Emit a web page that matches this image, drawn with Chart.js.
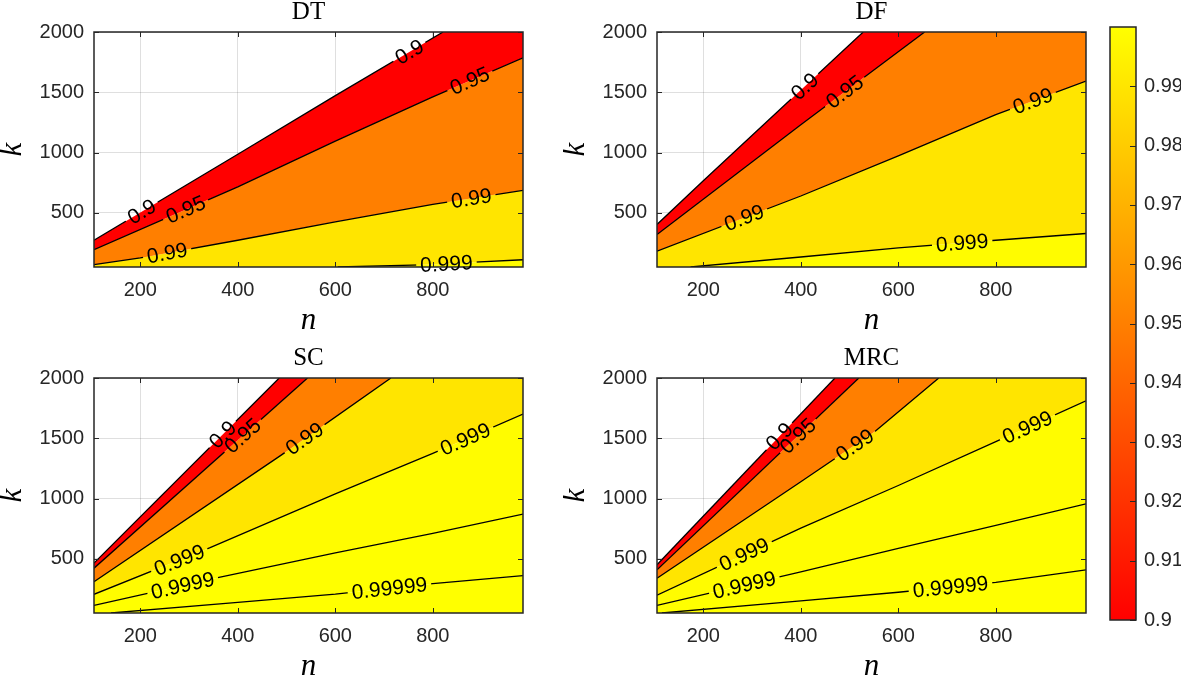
<!DOCTYPE html>
<html>
<head>
<meta charset="utf-8">
<script src="https://cdn.jsdelivr.net/npm/chart.js@4.4.1/dist/chart.umd.min.js"></script>
<style>
  body { margin: 0; background: #fff; width: 1181px; height: 677px; overflow: hidden; position: relative; }
  canvas { position: absolute; }
</style>
</head>
<body>
<canvas id="dt" width="530" height="340" style="left:0;top:0"></canvas>
<canvas id="df" width="530" height="340" style="left:563px;top:0"></canvas>
<canvas id="sc" width="530" height="340" style="left:0;top:346px"></canvas>
<canvas id="mrc" width="530" height="340" style="left:563px;top:346px"></canvas>
<canvas id="cbar" width="81" height="640" style="left:1100px;top:0"></canvas>
<script>
// axis limits and ticks
const nRange = [105, 985];
const kRange = [50, 2000];
const nTicks = [200, 400, 600, 800];
const kTicks = [500, 1000, 1500, 2000];
const cbarRange = [0.9, 1.0];
const cbarTicks = [0.9, 0.91, 0.92, 0.93, 0.94, 0.95, 0.96, 0.97, 0.98, 0.99];

// contour levels
const levels = [0.9, 0.95, 0.99, 0.999, 0.9999, 0.99999];

// contour lines, one [n, k] polyline per level, in the order of levels
const dtLines = [
  [[105, 272], [400, 986], [600, 1472], [821, 2000]],
  [[105, 194], [400, 715], [600, 1095], [800, 1462], [985, 1786]],
  [[105, 69], [200, 125], [400, 272], [600, 425], [800, 569], [985, 686]],
  [[605, 50], [800, 70], [886, 90], [985, 110]]
];
const dfLines = [
  [[105, 403], [200, 765], [528, 2000]],
  [[105, 319], [400, 1231], [654, 2000]],
  [[105, 181], [400, 639], [600, 972], [800, 1314], [985, 1592]],
  [[174, 50], [400, 133], [600, 208], [800, 272], [985, 328]]
];
const scLines = [
  [[105, 464], [485, 2000]],
  [[105, 422], [543, 2000]],
  [[105, 310], [489, 1360], [714, 2000]],
  [[105, 205], [342, 590], [600, 1038], [800, 1374], [985, 1700]],
  [[105, 113], [359, 343], [600, 548], [800, 710], [985, 870]],
  [[140, 50], [400, 139], [600, 206], [800, 293], [985, 360]]
];
const mrcLines = [
  [[105, 450], [470, 2000]],
  [[105, 408], [519, 2000]],
  [[105, 338], [400, 1139], [552, 1556], [683, 2000]],
  [[105, 198], [400, 755], [600, 1108], [800, 1472], [985, 1810]],
  [[105, 113], [400, 392], [600, 586], [800, 778], [985, 955]],
  [[115, 50], [400, 151], [600, 222], [800, 304], [985, 408]]
];

// inline labels: [level, n where the label sits]
const dtLabels = [[0.9, 203], [0.9, 752], [0.95, 293], [0.95, 876], [0.99, 255], [0.99, 879], [0.999, 828]];
const dfLabels = [[0.9, 408], [0.95, 490], [0.99, 284], [0.99, 876], [0.999, 731]];
const scLabels = [[0.9, 369], [0.95, 410], [0.99, 537], [0.999, 280], [0.999, 867], [0.9999, 287], [0.99999, 711]];
const mrcLabels = [[0.9, 356], [0.95, 394], [0.99, 511], [0.999, 284], [0.999, 865], [0.9999, 284], [0.99999, 707]];

const AXIS_COLOR = '#262626';
const TICK_FONT = { family: 'Liberation Sans, Arial, sans-serif', size: 20 };
const LABEL_FONT = '21px "Liberation Sans", Arial, sans-serif';
const SERIF = '"Liberation Serif", "Times New Roman", serif';

// autumn colormap over the colour axis
function levelColor(v) {
  const t = Math.min(1, Math.max(0, (v - cbarRange[0]) / (cbarRange[1] - cbarRange[0])));
  return 'rgb(255,' + Math.round(255 * t) + ',0)';
}

function onEdge(c) {
  const a = c.p0.parsed.y, b = c.p1.parsed.y;
  return (a >= kRange[1] && b >= kRange[1]) || (a <= kRange[0] && b <= kRange[0]);
}

function buildDatasets(lines) {
  const pts = lines.map(line => {
    const p = line.map(([n, k]) => ({ x: n, y: k }));
    // close the curve along the box edge so neighbouring levels can be filled
    if (p[0].y <= kRange[0] && p[0].x > nRange[0]) p.unshift({ x: nRange[0], y: kRange[0] });
    if (p[p.length - 1].y >= kRange[1] && p[p.length - 1].x < nRange[1]) p.push({ x: nRange[1], y: kRange[1] });
    return p;
  });
  const L = pts.length;
  const strokes = pts.map((p, i) => ({
    data: p, contour: true, level: levels[i],
    borderColor: '#000', borderWidth: 1.3, pointRadius: 0, fill: false, order: 0,
    segment: { borderColor: c => onEdge(c) ? 'rgba(0,0,0,0)' : undefined }
  }));
  const fills = pts.map((p, i) => ({
    data: p, borderWidth: 0, borderColor: 'rgba(0,0,0,0)', pointRadius: 0,
    backgroundColor: levelColor(levels[i]),
    fill: i < L - 1 ? L + i + 1 : 'start', order: 1
  }));
  return strokes.concat(fills);
}

function labelBoxes(chart, labels) {
  const { ctx, scales: { x } } = chart;
  ctx.save();
  ctx.font = LABEL_FONT;
  const out = [];
  labels.forEach(([lvl, n]) => {
    const idx = chart.data.datasets.findIndex(d => d.contour && d.level === lvl);
    if (idx < 0) return;
    const pts = chart.getDatasetMeta(idx).data;
    const px = x.getPixelForValue(n);
    for (let j = 0; j < pts.length - 1; j++) {
      const p0 = pts[j], p1 = pts[j + 1];
      if (px >= p0.x && px <= p1.x) {
        const t = (px - p0.x) / (p1.x - p0.x || 1);
        const text = String(lvl);
        out.push({
          idx, text, x: px, y: p0.y + t * (p1.y - p0.y),
          a: Math.atan2(p1.y - p0.y, p1.x - p0.x),
          w: ctx.measureText(text).width + 8, h: 18
        });
        break;
      }
    }
  });
  ctx.restore();
  return out;
}

function subplot(id, title, lines, labels) {
  const decor = {
    id: 'decor',
    beforeDatasetDraw(chart, args) {
      const ds = chart.data.datasets[args.index];
      if (!ds.contour) return;
      const ctx = chart.ctx;
      ctx.save();
      ctx.beginPath();
      ctx.rect(0, 0, chart.width, chart.height);
      labelBoxes(chart, labels).filter(b => b.idx === args.index).forEach(b => {
        const c = Math.cos(b.a), s = Math.sin(b.a);
        const hw = b.w / 2, hh = b.h / 2;
        [[-hw, -hh], [hw, -hh], [hw, hh], [-hw, hh]].forEach(([u, v], i) => {
          const X = b.x + u * c - v * s, Y = b.y + u * s + v * c;
          if (i === 0) ctx.moveTo(X, Y); else ctx.lineTo(X, Y);
        });
        ctx.closePath();
      });
      ctx.clip('evenodd');
    },
    afterDatasetDraw(chart, args) {
      if (chart.data.datasets[args.index].contour) chart.ctx.restore();
    },
    afterDraw(chart) {
      const { ctx, chartArea: a, scales: { x, y } } = chart;
      ctx.save();
      // inward tick marks on all four sides
      ctx.strokeStyle = AXIS_COLOR;
      ctx.lineWidth = 1;
      ctx.beginPath();
      x.ticks.forEach(t => {
        const px = Math.round(x.getPixelForValue(t.value)) + 0.5;
        ctx.moveTo(px, a.bottom); ctx.lineTo(px, a.bottom - 5);
        ctx.moveTo(px, a.top); ctx.lineTo(px, a.top + 5);
      });
      y.ticks.forEach(t => {
        const py = Math.round(y.getPixelForValue(t.value)) + 0.5;
        ctx.moveTo(a.left, py); ctx.lineTo(a.left + 5, py);
        ctx.moveTo(a.right, py); ctx.lineTo(a.right - 5, py);
      });
      ctx.stroke();
      ctx.lineWidth = 1.5;
      ctx.strokeRect(a.left, a.top, a.right - a.left, a.bottom - a.top);

      // inline contour labels
      ctx.fillStyle = '#000';
      ctx.font = LABEL_FONT;
      ctx.textAlign = 'center';
      ctx.textBaseline = 'middle';
      labelBoxes(chart, labels).forEach(b => {
        ctx.save();
        ctx.translate(b.x, b.y);
        ctx.rotate(b.a);
        ctx.fillText(b.text, 0, 1);
        ctx.restore();
      });

      // title and axis names
      const cx = (a.left + a.right) / 2;
      ctx.textBaseline = 'alphabetic';
      ctx.font = '25px ' + SERIF;
      ctx.fillText(title, cx, a.top - 13);
      ctx.font = 'italic 31px ' + SERIF;
      ctx.fillText('n', cx, a.bottom + 62);
      ctx.save();
      ctx.translate(21, (a.top + a.bottom) / 2);
      ctx.rotate(-Math.PI / 2);
      ctx.fillText('k', 0, 0);
      ctx.restore();
      ctx.restore();
    }
  };

  const axis = (range, ticks, pad, extra) => Object.assign({
    type: 'linear', min: range[0], max: range[1], z: 1,
    afterBuildTicks: s => { s.ticks = ticks.map(v => ({ value: v })); },
    ticks: { font: TICK_FONT, color: AXIS_COLOR, padding: pad, callback: v => String(v), autoSkip: false, maxRotation: 0 },
    grid: { color: 'rgba(38,38,38,0.15)', lineWidth: 1, drawTicks: false },
    border: { display: false }
  }, extra);

  return new Chart(document.getElementById(id), {
    type: 'line',
    data: { datasets: buildDatasets(lines) },
    options: {
      animation: false,
      responsive: false,
      layout: { padding: { left: 0, right: 7, top: 32, bottom: 0 } },
      plugins: { legend: { display: false }, tooltip: { enabled: false } },
      scales: {
        x: axis(nRange, nTicks, 11, { afterFit: s => { s.height = 73; } }),
        y: axis(kRange, kTicks, 10, { afterFit: s => { s.width = 94; } })
      }
    },
    plugins: [decor]
  });
}

subplot('dt', 'DT', dtLines, dtLabels);
subplot('df', 'DF', dfLines, dfLabels);
subplot('sc', 'SC', scLines, scLabels);
subplot('mrc', 'MRC', mrcLines, mrcLabels);

// colorbar
const cbarFrame = {
  id: 'cbarFrame',
  afterDraw(chart) {
    const { ctx, chartArea: a, scales: { y } } = chart;
    ctx.save();
    ctx.strokeStyle = AXIS_COLOR;
    ctx.lineWidth = 1;
    ctx.beginPath();
    y.ticks.forEach(t => {
      const py = Math.round(y.getPixelForValue(t.value)) + 0.5;
      ctx.moveTo(a.right, py); ctx.lineTo(a.right - 6, py);
    });
    ctx.stroke();
    ctx.lineWidth = 1.5;
    ctx.strokeRect(a.left, a.top, a.right - a.left, a.bottom - a.top);
    ctx.restore();
  }
};

new Chart(document.getElementById('cbar'), {
  type: 'bar',
  data: {
    labels: [''],
    datasets: [{
      data: [cbarRange],
      borderWidth: 0,
      barPercentage: 1,
      categoryPercentage: 1,
      backgroundColor: c => {
        const area = c.chart.chartArea;
        if (!area) return levelColor(cbarRange[0]);
        const g = c.chart.ctx.createLinearGradient(0, area.bottom, 0, area.top);
        g.addColorStop(0, levelColor(cbarRange[0]));
        g.addColorStop(1, levelColor(cbarRange[1]));
        return g;
      }
    }]
  },
  options: {
    animation: false,
    responsive: false,
    layout: { padding: { left: 10, right: 0, top: 27, bottom: 17 } },
    plugins: { legend: { display: false }, tooltip: { enabled: false } },
    scales: {
      x: { display: false },
      y: {
        position: 'right', min: cbarRange[0], max: cbarRange[1],
        afterBuildTicks: s => { s.ticks = cbarTicks.map(v => ({ value: v })); },
        afterFit: s => { s.width = 45; },
        ticks: { font: TICK_FONT, color: AXIS_COLOR, padding: 8, autoSkip: false, callback: v => String(v) },
        grid: { display: false, drawTicks: false },
        border: { display: false }
      }
    }
  },
  plugins: [cbarFrame]
});
</script>
</body>
</html>
